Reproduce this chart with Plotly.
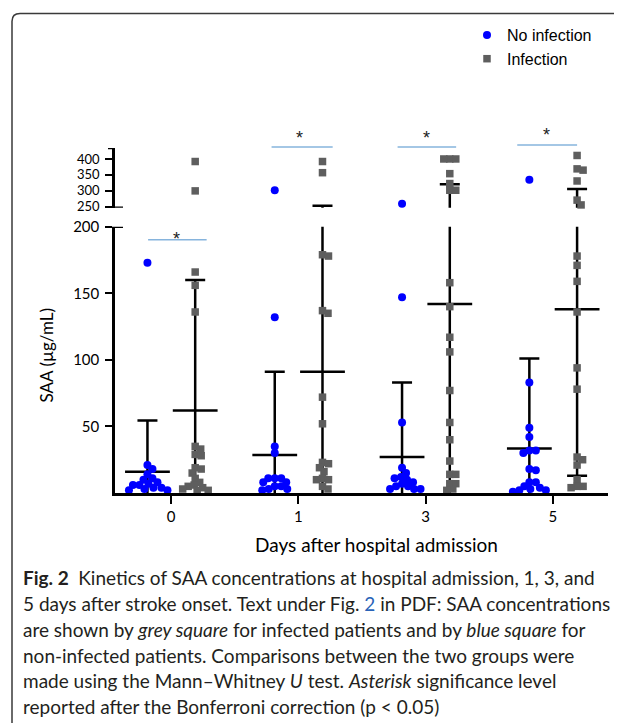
import plotly.graph_objects as go

# ---------------- data ----------------
days = ["0", "1", "3", "5"]

no_inf_values = [
    [173, 21, 18, 14, 11, 10, 8, 7, 6, 6, 4, 4, 3, 2, 2],
    [302, 132, 35, 30, 11, 11, 11, 8, 8, 5, 5, 3, 3, 2],
    [260, 147, 53, 19, 15, 12, 11, 10, 8, 7, 5, 5, 3, 3, 3],
    [335, 83, 49, 42, 32, 32, 30, 18, 17, 8, 8, 5, 4, 3, 2, 2, 1],
]
inf_values = [
    [392, 300, 166, 156, 136, 35, 33, 29, 28, 19, 18, 15, 11, 8, 6, 5, 4, 3, 2, 2],
    [392, 357, 179, 178, 137, 135, 72, 52, 23, 22, 19, 16, 11, 10, 10, 5, 3],
    [400, 400, 400, 354, 323, 302, 302, 158, 140, 117, 106, 77, 53, 40, 24, 14, 14, 7, 7, 3, 2],
    [411, 369, 365, 331, 271, 256, 178, 171, 159, 136, 94, 78, 27, 25, 21, 10, 5, 5, 4],
]
no_inf_mean = [16, 28.5, 27, 33.5]
no_inf_sd = [38.5, 62.5, 56, 67.5]
inf_mean = [62, 91, 142, 138]
inf_err_plus = [98, 162, 179, 168]
inf_err_minus = [98, 162, 179, 125]
significant = [True, True, True, True]

series_names = ["No infection", "Infection"]
caption_lines = [
    "<b>Fig. 2</b>\u2002Kinetics of SAA concentrations at hospital admission, 1, 3, and",
    "5 days after stroke onset. Text under Fig. <span style='color:#2a63b8'>2</span> in PDF: SAA concentrations",
    "are shown by <i>grey square</i> for infected patients and by <i>blue square</i> for",
    "non-infected patients. Comparisons between the two groups were",
    "made using the Mann\u2013Whitney <i>U</i> test. <i>Asterisk</i> significance level",
    "reported after the Bonferroni correction (p &lt; 0.05)",
]

# ---------------- layout geometry (pixels, in screenshot coordinates) ----------------
W, H = 622, 723
OFF = 8                   # page body margin of the html page
PL, PR, PT, PB = 115, 608, 147, 493
LOW_TOP_PX = 226          # pixel row of 200 on lower segment
UP_BOT_PX = 207           # pixel row of bottom of upper segment
LOW_RANGE = [0, 200]
UP_PPU = 0.32             # px per unit on upper segment (400 at 158, 250 at 206)
UP_RANGE = [250 - (UP_BOT_PX - 206) / UP_PPU, 400 + (158 - PT) / UP_PPU]
X0_PX, XSTEP_PX = 171, 127.3
OFFS = [-0.185, 0.19]

pw, ph = PR - PL, PB - PT


def pxx(px):
    return (px - PL) / pw


def pxy(py):
    return (PB - py) / ph


x_range = [(PL - X0_PX) / XSTEP_PX, (PR - X0_PX) / XSTEP_PX]
low_ppu = (PB - LOW_TOP_PX) / (LOW_RANGE[1] - LOW_RANGE[0])
up_ppu = (UP_BOT_PX - PT) / (UP_RANGE[1] - UP_RANGE[0])


def val_py(v):
    if v <= LOW_RANGE[1]:
        return PB - (v - LOW_RANGE[0]) * low_ppu
    return UP_BOT_PX - (v - UP_RANGE[0]) * up_ppu


def swarm(vals, diam):
    placed, out = [], []
    for v in vals:
        y = val_py(v)
        k, best = 0, None
        while best is None:
            cands = [0.0] if k == 0 else [k * 0.5, -k * 0.5]
            for dx in cands:
                if all((dx - a) ** 2 + (y - b) ** 2 >= diam ** 2 for a, b in placed):
                    best = dx
                    break
            k += 1
        placed.append((best, y))
        out.append(best)
    return out


colors = ["#0000ff", "#5e5e5e"]
symbols = ["circle", "square"]
msizes = [8, 7.5]

fig = go.Figure()

# error bars + mean lines
for g, (means, ep, em) in enumerate([(no_inf_mean, no_inf_sd, no_inf_sd),
                                     (inf_mean, inf_err_plus, inf_err_minus)]):
    xs = [i + OFFS[g] for i in range(len(days))]
    for yax in ["y", "y2"]:
        fig.add_trace(go.Scatter(
            x=xs, y=means, yaxis=yax, mode="markers",
            marker=dict(symbol="line-ew", size=32 if yax == "y" else 1,
                        line=dict(width=2.5, color="black" if yax == "y" else "rgba(0,0,0,0)"),
                        color="black"),
            error_y=dict(type="data", symmetric=False, array=ep, arrayminus=em,
                         color="black", thickness=2.5, width=10),
            showlegend=False, hoverinfo="skip"))

# points
for g, allvals in enumerate([no_inf_values, inf_values]):
    for seg, yax in [("low", "y"), ("up", "y2")]:
        xs, ys = [], []
        for i, vals in enumerate(allvals):
            offs = swarm(vals, msizes[g] * 0.8)
            for v, dx in zip(vals, offs):
                inlow = v <= LOW_RANGE[1]
                if (seg == "low") == inlow:
                    xs.append(i + OFFS[g] + dx / XSTEP_PX)
                    ys.append(v)
        fig.add_trace(go.Scatter(
            x=xs, y=ys, yaxis=yax, mode="markers", name=series_names[g],
            legendgroup=series_names[g], showlegend=(seg == "low"),
            cliponaxis=False,
            marker=dict(symbol=symbols[g], size=msizes[g], color=colors[g],
                        line=dict(width=0))))

shapes = []
annotations = []

# significance bars
sig_pos = [  # (x0, x1, line py, star x, star py)
    (-0.18, 0.28, 239, 0.04, 226),
    (-0.21, 0.27, 146, 0.01, 125),
    (-0.22, 0.24, 146, 0.01, 125),
    (-0.28, 0.19, 144, -0.05, 122),
]
for i, s in enumerate(significant):
    if not s:
        continue
    x0, x1, ly, sx, sy = sig_pos[i]
    shapes.append(dict(type="line", xref="x", yref="paper", x0=i + x0, x1=i + x1,
                       y0=pxy(ly), y1=pxy(ly), line=dict(color="#86b4dd", width=1.5)))
    annotations.append(dict(text="*", xref="x", yref="paper", x=i + sx, y=pxy(sy),
                            showarrow=False, font=dict(size=18, color="#222",
                                                       family="Liberation Sans, Arial")))

# axis caps
shapes += [
    dict(type="line", xref="paper", yref="y", x0=pxx(PL - 8), x1=pxx(PL + 8),
         y0=200, y1=200, line=dict(color="black", width=2.5)),
    dict(type="line", xref="paper", yref="y2", x0=pxx(PL - 8), x1=pxx(PL + 8),
         y0=UP_RANGE[0], y1=UP_RANGE[0], line=dict(color="black", width=2.5)),
    dict(type="line", xref="paper", yref="y2", x0=pxx(PL - 7), x1=pxx(PL),
         y0=UP_RANGE[1], y1=UP_RANGE[1], line=dict(color="black", width=2.5)),
]

# outer rounded border (left + top)
bx, by = pxx(12), pxy(12)
rx, ry = 8 / pw, 8 / ph
shapes.append(dict(type="path", xref="paper", yref="paper",
                   path=f"M {bx},{pxy(760)} L {bx},{by - ry} Q {bx},{by} {bx + rx},{by} L {pxx(660)},{by}",
                   line=dict(color="#3a3a3a", width=1.5)))

# axis titles
annotations.append(dict(text="Days after hospital admission", xref="paper", yref="paper",
                        x=pxx(376), y=pxy(545), showarrow=False, xanchor="center", yanchor="middle",
                        font=dict(size=19, color="black", family="Lato")))
annotations.append(dict(text="SAA (\u00b5g/mL)", xref="paper", yref="paper",
                        x=pxx(46), y=pxy(355), showarrow=False, textangle=-90,
                        xanchor="center", yanchor="middle",
                        font=dict(size=17, color="black", family="Lato")))

# caption
cap_y = [578, 604, 630, 656, 681, 707]
for line, cy in zip(caption_lines, cap_y):
    annotations.append(dict(text=line, xref="paper", yref="paper", x=pxx(21), y=pxy(cy),
                            xanchor="left", yanchor="middle", showarrow=False, align="left",
                            font=dict(size=19, color="#231f20", family="Lato")))

axis_common = dict(showline=True, linewidth=2.5, linecolor="black", ticks="outside",
                   tickwidth=2, tickcolor="black", showgrid=False, zeroline=False)

fig.update_layout(
    width=W - OFF, height=H - OFF,
    margin=dict(l=PL - OFF, r=W - PR, t=PT - OFF, b=H - PB, pad=0),
    paper_bgcolor="white", plot_bgcolor="white",
    xaxis=dict(range=x_range, tickvals=list(range(len(days))), ticktext=days,
               ticklen=8, anchor="y", tickfont=dict(size=15, color="black", family="Lato"),
               **axis_common),
    yaxis=dict(range=LOW_RANGE, domain=[0, pxy(LOW_TOP_PX)], tickvals=[50, 100, 150, 200],
               ticklen=7, ticklabelstandoff=3, anchor="x",
               tickfont=dict(size=15, color="black", family="Lato"), **axis_common),
    yaxis2=dict(range=UP_RANGE, domain=[pxy(UP_BOT_PX), 1], tickvals=[250, 300, 350, 400],
                ticklen=7, ticklabelstandoff=3, anchor="x",
                tickfont=dict(size=13, color="black", family="Lato"), **axis_common),
    legend=dict(x=pxx(467), y=pxy(18), xanchor="left", yanchor="top",
                font=dict(size=16, color="black", family="Liberation Sans, Arial"),
                bgcolor="rgba(0,0,0,0)", tracegroupgap=0, itemwidth=30),
    shapes=shapes, annotations=annotations,
)

fig.write_html("out.html")
